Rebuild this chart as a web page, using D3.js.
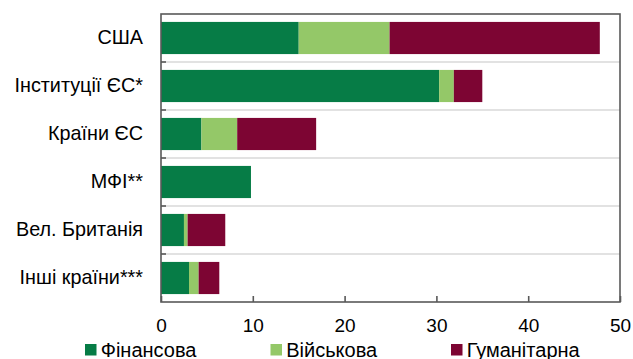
<!DOCTYPE html>
<html>
<head>
<meta charset="utf-8">
<script src="https://cdn.jsdelivr.net/npm/d3@7"></script>
<style>
  html, body { margin: 0; padding: 0; background: #fff; }
  svg { display: block; font-family: "Liberation Sans", Arial, sans-serif; }
</style>
</head>
<body>
<svg id="chart" width="633" height="359"></svg>
<script>
// Donors and their aid split into three kinds (bn)
const categories = ["США", "Інституції ЄС*", "Країни ЄС", "МФІ**", "Вел. Британія", "Інші країни***"];
const financial    = [15.0, 30.3, 4.4, 9.8, 2.5, 3.05];
const military     = [ 9.9,  1.6, 3.9, 0.0, 0.4, 1.05];
const humanitarian = [22.9,  3.1, 8.6, 0.0, 4.1, 2.25];
const seriesNames = ["Фінансова", "Військова", "Гуманітарна"];
const xTicks = [0, 10, 20, 30, 40, 50];

const colors = ["#067c46", "#94c868", "#7d0533"];

const svg = d3.select("#chart");
const plotLeft = 161, plotRight = 620, plotTop = 14, plotBottom = 302;

const rows = categories.map((c, i) => ({
  cat: c,
  "Фінансова": financial[i],
  "Військова": military[i],
  "Гуманітарна": humanitarian[i]
}));
const stacked = d3.stack().keys(seriesNames)(rows);

const x = d3.scaleLinear().domain([0, 50]).range([plotLeft, plotRight]);
const y = d3.scaleBand().domain(categories).range([plotTop, plotBottom])
  .paddingInner(0.33).paddingOuter(0.165);

const gap = (y.step() - y.bandwidth()) / 2;
const boundaries = categories.slice(1).map(c => y(c) - gap);

// light horizontal separators between donors
svg.append("g").selectAll("line").data(boundaries).join("line")
  .attr("x1", plotLeft).attr("x2", plotRight)
  .attr("y1", d => d).attr("y2", d => d)
  .attr("stroke", "#d9d9d9").attr("stroke-width", 1.5);

// stacked bars
svg.append("g").selectAll("g").data(stacked).join("g")
  .attr("fill", (d, i) => colors[i])
  .selectAll("rect").data(d => d).join("rect")
  .attr("x", d => x(d[0]))
  .attr("width", d => Math.max(0, x(d[1]) - x(d[0])))
  .attr("y", d => y(d.data.cat))
  .attr("height", y.bandwidth());

// frame around the plot
svg.append("rect")
  .attr("x", plotLeft).attr("y", plotTop)
  .attr("width", plotRight - plotLeft).attr("height", plotBottom - plotTop)
  .attr("fill", "none").attr("stroke", "#595959").attr("stroke-width", 1.6);

// small inner ticks on the left edge at the separators
svg.append("g").selectAll("line").data(boundaries).join("line")
  .attr("x1", plotLeft).attr("x2", plotLeft + 5)
  .attr("y1", d => d).attr("y2", d => d)
  .attr("stroke", "#595959").attr("stroke-width", 1.6);

// bottom axis
const xAxis = svg.append("g")
  .attr("transform", `translate(0,${plotBottom})`)
  .call(d3.axisBottom(x).tickValues(xTicks).tickSize(-6).tickPadding(17).tickFormat(d3.format("d")));
xAxis.select(".domain").remove();
xAxis.selectAll(".tick line").attr("stroke", "#595959").attr("stroke-width", 1.6);
xAxis.selectAll(".tick text").attr("font-size", 19).attr("fill", "#000")
  .attr("font-family", "Liberation Sans, Arial, sans-serif");

// category labels
const yAxis = svg.append("g")
  .attr("transform", `translate(${plotLeft},0)`)
  .call(d3.axisLeft(y).tickSize(0).tickPadding(18));
yAxis.select(".domain").remove();
yAxis.selectAll(".tick text").attr("font-size", 19.8).attr("fill", "#000")
  .attr("font-family", "Liberation Sans, Arial, sans-serif");

// legend
const legendX = [85, 270.5, 451];
const legend = svg.append("g").selectAll("g").data(seriesNames).join("g")
  .attr("transform", (d, i) => `translate(${legendX[i]},344)`);
legend.append("rect").attr("width", 11.5).attr("height", 11.5)
  .attr("fill", (d, i) => colors[i]);
legend.append("text").attr("x", 15.7).attr("y", 12.5)
  .attr("font-size", 20).attr("fill", "#000")
  .text(d => d);
</script>
</body>
</html>
